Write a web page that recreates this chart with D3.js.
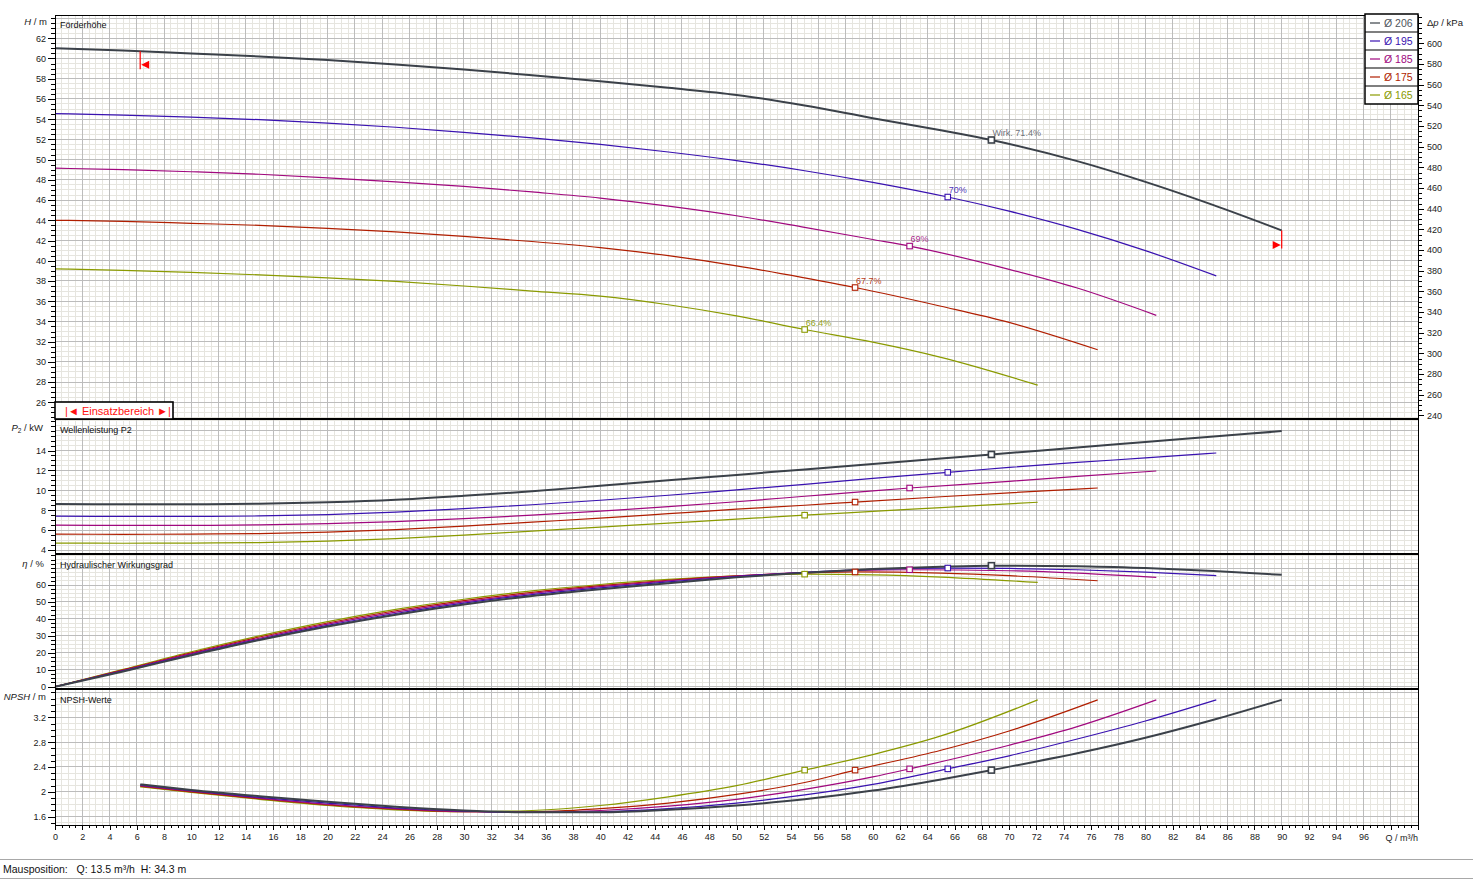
<!DOCTYPE html>
<html><head><meta charset="utf-8">
<script src="https://cdn.jsdelivr.net/npm/d3@7"></script>
<style>
body{margin:0;background:#fff;}
svg{display:block;font-family:"Liberation Sans",Arial,sans-serif;}
</style>
</head><body>
<svg id="c" width="1477" height="879"></svg>
<script>
// ---------------- DATA ----------------
const labels = ["Ø 206","Ø 195","Ø 185","Ø 175","Ø 165"];
const optQ = [68.7, 65.5, 62.7, 58.7, 55.0];
const optLabels = ["Wirk.  71.4%","70%","69%","67.7%","66.4%"];
const rangeQ = [6.25, 90];   // Einsatzbereich of Ø 206

// Ø 206
const q206   = [0,5,10,15,20,25,30,35,40,45,50,55,60,65,68.7,75,80,85,90];
const H206   = [61.0,60.8,60.5,60.2,59.85,59.4,58.9,58.35,57.75,57.1,56.4,55.35,54.1,52.9,51.94,49.85,47.8,45.5,43.0];
const P206   = [8.62,8.6,8.6,8.65,8.8,9.05,9.45,9.9,10.45,11.0,11.55,12.1,12.65,13.2,13.6,14.3,14.85,15.4,15.95];
const eta206 = [0,9,18.5,27.5,35.5,42.5,48.5,53.5,57.5,61,64.5,67.3,69.4,70.8,71.4,71.1,70,68.3,66];
const qN206  = [6.25,10,15,20,25,30,35,40,45,50,55,60,65,68.7,75,80,85,90];
const N206   = [2.12,2.03,1.93,1.84,1.76,1.7,1.67,1.67,1.71,1.78,1.88,2.02,2.2,2.35,2.62,2.87,3.16,3.48];

// Ø 195
const q195   = [0,5,10,15,20,25,30,35,40,45,50,55,60,65.5,70,75,80,85.2];
const H195   = [54.55,54.4,54.2,53.95,53.6,53.2,52.7,52.15,51.5,50.75,49.9,48.9,47.75,46.3,44.9,43.1,41.0,38.5];
const P195   = [7.4,7.38,7.38,7.42,7.55,7.8,8.15,8.55,9.0,9.5,10.05,10.6,11.2,11.8,12.3,12.8,13.25,13.75];
const eta195 = [0,9.3,19,28,36.2,43.2,49.3,54.3,58.3,61.8,65,67.5,69.2,70,69.8,69,67.6,65.5];
const qN195  = [6.25,10,15,20,25,30,35,40,45,50,55,60,65.5,70,75,80,85.2];
const N195   = [2.11,2.02,1.91,1.82,1.74,1.69,1.67,1.68,1.73,1.82,1.95,2.12,2.37,2.58,2.85,3.14,3.48];

// Ø 185
const q185   = [0,5,10,15,20,25,30,35,40,45,50,55,60,62.7,70,75,80.8];
const H185   = [49.15,49.0,48.8,48.55,48.2,47.8,47.35,46.8,46.2,45.4,44.45,43.3,42.1,41.45,39.15,37.3,34.6];
const P185   = [6.5,6.48,6.48,6.52,6.65,6.85,7.15,7.5,7.9,8.35,8.85,9.4,9.95,10.23,10.9,11.4,11.94];
const eta185 = [0,9.6,19.5,28.6,36.9,44,50,55,59,62.4,65.3,67.4,68.7,69,68.4,67,64.5];
const qN185  = [6.25,10,15,20,25,30,35,40,45,50,55,60,62.7,70,75,80.8];
const N185   = [2.1,2.01,1.9,1.8,1.73,1.68,1.67,1.7,1.77,1.88,2.04,2.24,2.37,2.75,3.05,3.48];

// Ø 175
const q175   = [0,5,10,15,20,25,30,35,40,45,50,55,58.7,65,70,76.5];
const H175   = [44.0,43.9,43.7,43.5,43.2,42.85,42.4,41.9,41.3,40.5,39.5,38.3,37.35,35.5,33.9,31.2];
const P175   = [5.6,5.58,5.6,5.65,5.8,6.05,6.4,6.8,7.2,7.65,8.1,8.5,8.82,9.35,9.75,10.23];
const eta175 = [0,9.9,20,29.3,37.6,44.8,50.8,55.7,59.6,62.8,65.4,67.1,67.7,67,65.5,62.5];
const qN175  = [6.25,10,15,20,25,30,35,40,45,50,55,58.7,65,70,76.5];
const N175   = [2.09,2.0,1.89,1.79,1.72,1.68,1.68,1.73,1.82,1.96,2.15,2.35,2.67,2.98,3.48];

// Ø 165
const q165   = [0,5,10,15,20,25,30,35,40,45,50,55,60,65,72.1];
const H165   = [39.2,39.05,38.85,38.6,38.3,37.95,37.5,37.0,36.5,35.65,34.55,33.2,31.95,30.45,27.7];
const P165   = [4.7,4.68,4.7,4.75,4.9,5.15,5.5,5.9,6.3,6.7,7.1,7.5,7.88,8.26,8.8];
const eta165 = [0,10.2,20.6,30,38.4,45.6,51.6,56.5,60.3,63.3,65.4,66.4,66,64.7,61.5];
const qN165  = [6.25,10,15,20,25,30,35,40,45,50,55,60,65,72.1];
const N165   = [2.08,1.99,1.88,1.78,1.71,1.68,1.7,1.78,1.92,2.1,2.35,2.6,2.9,3.48];

const xTickLabels = d3.range(0, 97, 2);
const headTicks = d3.range(26, 63, 2);
const powerTicks = d3.range(4, 15, 2);
const effTicks = d3.range(0, 61, 10);
const npshTicks = [1.6, 2.0, 2.4, 2.8, 3.2];
const kpaTicks = d3.range(240, 601, 20);

// ---------------- STYLE / LAYOUT ----------------
const colors = ["#3b4149","#3912b0","#a0087e","#b01e00","#8a9a00"];
const widths = [2, 1.2, 1.2, 1.2, 1.2];
const X0 = 55, X1 = 1418;
const TOP = 15, S1 = 419, S2 = 554, S3 = 689, BOT = 825;
const GMINOR = "#e6e5df", GMAJOR = "#bcbcbc";

const series = [
  {q:q206,H:H206,P:P206,eta:eta206,qN:qN206,N:N206},
  {q:q195,H:H195,P:P195,eta:eta195,qN:qN195,N:N195},
  {q:q185,H:H185,P:P185,eta:eta185,qN:qN185,N:N185},
  {q:q175,H:H175,P:P175,eta:eta175,qN:qN175,N:N175},
  {q:q165,H:H165,P:P165,eta:eta165,qN:qN165,N:N165}
].map((s,i)=>Object.assign(s,{name:labels[i],color:colors[i],w:widths[i],opt:optQ[i],optLabel:optLabels[i]}));

const x = d3.scaleLinear().domain([0,100]).range([X0,X1]);
const yH = d3.scaleLinear().domain([24.35,64.30]).range([S1,TOP]);
const yK = d3.scaleLinear().domain([236.5,627.4]).range([S1,TOP]);
const yP = d3.scaleLinear().domain([3.598,17.166]).range([S2,S1]);
const yE = d3.scaleLinear().domain([-1.357,78.29]).range([S3,S2]);
const yN = d3.scaleLinear().domain([1.4664,3.6555]).range([BOT,S3]);

function steps(a,b,s){const n=Math.floor((b-a)/s+1e-6);return d3.range(n+1).map(i=>+(a+i*s).toFixed(4));}

const svg = d3.select("#c");
svg.append("rect").attr("width",1477).attr("height",879).attr("fill","#fff");

// ---------------- GRID ----------------
const xMinor = steps(0,100,0.5), xMajor = steps(0,100,2);
function grid(y, minorStep, majorStep, lo, hi){
  const [top,bottom] = [y.range()[1], y.range()[0]];
  const g = svg.append("g").attr("shape-rendering","crispEdges");
  const yMin = steps(Math.ceil(lo/minorStep)*minorStep, hi, minorStep);
  const yMaj = steps(Math.ceil(lo/majorStep)*majorStep, hi, majorStep);
  g.selectAll(null).data(xMinor).join("line").attr("x1",d=>x(d)).attr("x2",d=>x(d)).attr("y1",top).attr("y2",bottom).attr("stroke",GMINOR);
  g.selectAll(null).data(yMin).join("line").attr("x1",X0).attr("x2",X1).attr("y1",d=>y(d)).attr("y2",d=>y(d)).attr("stroke",GMINOR);
  g.selectAll(null).data(xMajor).join("line").attr("x1",d=>x(d)).attr("x2",d=>x(d)).attr("y1",top).attr("y2",bottom).attr("stroke",GMAJOR);
  g.selectAll(null).data(yMaj).join("line").attr("x1",X0).attr("x2",X1).attr("y1",d=>y(d)).attr("y2",d=>y(d)).attr("stroke",GMAJOR);
  return yMin;
}
const hMin = grid(yH, 0.5, 2, yH.domain()[0], yH.domain()[1]);
const pMin = grid(yP, 0.5, 2, yP.domain()[0], yP.domain()[1]);
const eMin = grid(yE, 2.5, 10, 0, yE.domain()[1]);
const nMin = grid(yN, 0.1, 0.4, yN.domain()[0], yN.domain()[1]);

// ---------------- AXES ----------------
function leftAxis(y, minors, majors, fmt){
  const g1 = svg.append("g").attr("transform",`translate(${X0},0)`)
    .call(d3.axisLeft(y).tickValues(minors).tickSize(4).tickFormat(""));
  const g2 = svg.append("g").attr("transform",`translate(${X0},0)`)
    .call(d3.axisLeft(y).tickValues(majors).tickSize(7).tickPadding(2).tickFormat(fmt));
  [g1,g2].forEach(g=>{g.select(".domain").remove();g.selectAll("line").attr("stroke","#000").attr("shape-rendering","crispEdges");});
  g2.selectAll("text").attr("font-size",9).attr("fill","#1a1a1a").attr("font-family",'"Liberation Sans",Arial,sans-serif');
}
leftAxis(yH, hMin, headTicks, d3.format("d"));
leftAxis(yP, pMin, powerTicks, d3.format("d"));
leftAxis(yE, eMin, effTicks, d3.format("d"));
leftAxis(yN, nMin, npshTicks, d3.format("~g"));

// right kPa axis
{
  const kMin = steps(240, 625, 5);
  const g1 = svg.append("g").attr("transform",`translate(${X1},0)`).call(d3.axisRight(yK).tickValues(kMin).tickSize(4).tickFormat(""));
  const g2 = svg.append("g").attr("transform",`translate(${X1},0)`).call(d3.axisRight(yK).tickValues(kpaTicks).tickSize(6).tickPadding(3).tickFormat(d3.format("d")));
  [g1,g2].forEach(g=>{g.select(".domain").remove();g.selectAll("line").attr("stroke","#000").attr("shape-rendering","crispEdges");});
  g2.selectAll("text").attr("font-size",9).attr("fill","#1a1a1a").attr("font-family",'"Liberation Sans",Arial,sans-serif');
}

// bottom axis
{
  const g1 = svg.append("g").attr("transform",`translate(0,${BOT})`).call(d3.axisBottom(x).tickValues(xMinor).tickSize(3).tickFormat(""));
  const g2 = svg.append("g").attr("transform",`translate(0,${BOT})`).call(d3.axisBottom(x).tickValues(xMajor).tickSize(5).tickPadding(3.5).tickFormat(d=>xTickLabels.includes(d)?d3.format("d")(d):""));
  [g1,g2].forEach(g=>{g.select(".domain").remove();g.selectAll("line").attr("stroke","#000").attr("shape-rendering","crispEdges");});
  g2.selectAll("text").attr("font-size",9).attr("fill","#1a1a1a").attr("font-family",'"Liberation Sans",Arial,sans-serif');
  svg.append("text").attr("x",X1).attr("y",BOT+16).attr("text-anchor","end").attr("font-size",9).attr("fill","#1a1a1a").text("Q / m³/h");
}

// ---------------- CURVES ----------------
const plots = svg.append("g");
function drawPanel(y, qKey, vKey){
  series.slice().reverse().forEach(s=>{
    const pts = s[qKey].map((q,i)=>[q, s[vKey][i]]);
    plots.append("path").datum(pts)
      .attr("d", d3.line().x(d=>x(d[0])).y(d=>y(d[1])).curve(d3.curveMonotoneX))
      .attr("fill","none").attr("stroke",s.color).attr("stroke-width",s.w);
  });
}
drawPanel(yH,"q","H");
drawPanel(yP,"q","P");
drawPanel(yE,"q","eta");
drawPanel(yN,"qN","N");

function valAt(qs, vs, q){
  for(let i=0;i<qs.length-1;i++){
    if(q>=qs[i] && q<=qs[i+1]){const t=(q-qs[i])/(qs[i+1]-qs[i]);return vs[i]+t*(vs[i+1]-vs[i]);}
  }
  return vs[vs.length-1];
}

// design point markers
series.slice().reverse().forEach((s,ri)=>{
  const sz = s.w>1.5 ? 6 : 5.5;
  [[yH,"q","H"],[yP,"q","P"],[yE,"q","eta"],[yN,"qN","N"]].forEach(([y,qk,vk])=>{
    const v = valAt(s[qk], s[vk], s.opt);
    plots.append("rect").attr("x",x(s.opt)-sz/2).attr("y",y(v)-sz/2).attr("width",sz).attr("height",sz)
      .attr("fill","#fff").attr("stroke",s.color).attr("stroke-width",s.w>1.5?1.6:1.1);
  });
  const vH = valAt(s.q, s.H, s.opt);
  plots.append("text").attr("x",x(s.opt)+1).attr("y",yH(vH)-4).attr("font-size",9)
    .attr("fill", s.w>1.5 ? "#5b626a" : s.color).attr("fill-opacity",0.9).text(s.optLabel);
});

// Einsatzbereich markers on Ø 206
{
  const s = series[0];
  const red = "#ff0000";
  const xl = x(rangeQ[0]), yl = yH(valAt(s.q,s.H,rangeQ[0]));
  plots.append("line").attr("x1",xl).attr("x2",xl).attr("y1",yl).attr("y2",yl+18).attr("stroke",red).attr("stroke-width",1.2);
  plots.append("path").attr("d",`M${xl+1},${yl+13.5} L${xl+9},${yl+9.5} L${xl+9},${yl+17.5} Z`).attr("fill",red);
  const xr = x(rangeQ[1]), yr = yH(valAt(s.q,s.H,rangeQ[1]));
  plots.append("line").attr("x1",xr).attr("x2",xr).attr("y1",yr).attr("y2",yr+18).attr("stroke",red).attr("stroke-width",1.2);
  plots.append("path").attr("d",`M${xr-1},${yr+14.5} L${xr-9},${yr+10.5} L${xr-9},${yr+18.5} Z`).attr("fill",red);
}

// ---------------- FRAME ----------------
const frame = svg.append("g").attr("stroke","#000").attr("shape-rendering","crispEdges");
frame.append("line").attr("x1",X0).attr("x2",X1).attr("y1",TOP).attr("y2",TOP);
frame.append("line").attr("x1",X0).attr("x2",X0).attr("y1",TOP).attr("y2",BOT);
frame.append("line").attr("x1",X1).attr("x2",X1).attr("y1",TOP).attr("y2",BOT);
frame.append("line").attr("x1",X0).attr("x2",X1).attr("y1",BOT).attr("y2",BOT);
[S1,S2,S3].forEach(v=>frame.append("line").attr("x1",X0).attr("x2",X1).attr("y1",v).attr("y2",v).attr("stroke-width",2));

// Einsatzbereich box
{
  const g = svg.append("g");
  g.append("rect").attr("x",X0).attr("y",S1-17).attr("width",118).attr("height",17)
    .attr("fill","#fff").attr("stroke","#000").attr("stroke-width",1.6);
  g.append("text").attr("x",X0+63).attr("y",S1-4.5).attr("text-anchor","middle").attr("font-size",11)
    .attr("fill","#ff1010").text("|◄ Einsatzbereich ►|");
}

// panel titles
const titles = [["Förderhöhe",TOP+13],["Wellenleistung P2",S1+14],["Hydraulischer Wirkungsgrad",S2+14],["NPSH-Werte",S3+14]];
titles.forEach(([t,yy])=>svg.append("text").attr("x",X0+5).attr("y",yy).attr("font-size",9).attr("fill","#111").text(t));

// axis titles
function axTitle(xx, yy, parts, anchor){
  const t = svg.append("text").attr("x",xx).attr("y",yy).attr("font-size",9.5).attr("fill","#1a1a1a").attr("text-anchor",anchor||"end");
  parts.forEach(([s,st])=>{const sp=t.append("tspan").text(s); if(st==="i")sp.attr("font-style","italic"); if(st==="sub")sp.attr("font-size",6.5).attr("dy",2); if(st==="up")sp.attr("dy",-2);});
}
axTitle(47, TOP+10, [["H","i"],[" / m",""]]);
axTitle(43, S1+12, [["P","i"],["2","sub"],[" / kW","up"]]);
axTitle(44, S2+13, [["η","i"],[" / %",""]]);
axTitle(46, S3+11, [["NPSH","i"],[" / m",""]]);
axTitle(1427, TOP+11, [["Δ",""],["p","i"],[" / kPa",""]], "start");

// legend
{
  const lx = 1365, ly = 14, lw = 53, rh = 18;
  const g = svg.append("g");
  g.append("rect").attr("x",lx).attr("y",ly).attr("width",lw).attr("height",rh*labels.length).attr("fill","#fff").attr("stroke","#000").attr("stroke-width",1.5);
  series.forEach((s,i)=>{
    const cy = ly + rh*i + rh/2;
    if(i>0) g.append("line").attr("x1",lx).attr("x2",lx+lw).attr("y1",ly+rh*i).attr("y2",ly+rh*i).attr("stroke","#000").attr("stroke-width",1.2);
    g.append("line").attr("x1",lx+5).attr("x2",lx+15).attr("y1",cy).attr("y2",cy).attr("stroke",s.color).attr("stroke-width",1.2);
    g.append("text").attr("x",lx+19).attr("y",cy+4).attr("font-size",10.5).attr("fill",i===0?"#50565e":s.color).text(s.name);
  });
}

// status bar
svg.append("line").attr("x1",0).attr("x2",1473).attr("y1",859.5).attr("y2",859.5).attr("stroke","#a8a8a8");
svg.append("line").attr("x1",0).attr("x2",1473).attr("y1",878.5).attr("y2",878.5).attr("stroke","#a8a8a8");
svg.append("text").attr("x",3).attr("y",873).attr("font-size",10.5).attr("fill","#111").attr("xml:space","preserve")
  .text("Mausposition:   Q: 13.5 m³/h  H: 34.3 m");
</script>
</body></html>
